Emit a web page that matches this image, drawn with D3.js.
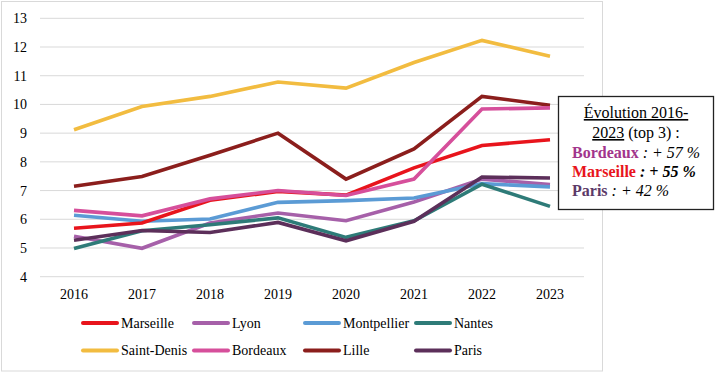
<!DOCTYPE html>
<html>
<head>
<meta charset="utf-8">
<script src="https://cdn.jsdelivr.net/npm/d3@7"></script>
<style>
  body { margin: 0; background: #fff; }
</style>
</head>
<body>
<div id="chart"></div>
<script>
// Data
var years = ["2016", "2017", "2018", "2019", "2020", "2021", "2022", "2023"];
var yTicks = [4, 5, 6, 7, 8, 9, 10, 11, 12, 13];

var marseille  = [5.69, 5.87, 6.66, 6.97, 6.84, 7.79, 8.57, 8.77];
var lyon       = [5.41, 4.99, 5.87, 6.22, 5.95, 6.6, 7.4, 7.21];
var montpellier= [6.14, 5.93, 6.01, 6.59, 6.65, 6.74, 7.24, 7.13];
var nantes     = [4.98, 5.6, 5.81, 6.05, 5.37, 5.95, 7.22, 6.45];
var saintDenis = [9.12, 9.93, 10.28, 10.78, 10.57, 11.46, 12.23, 11.68];
var bordeaux   = [6.31, 6.12, 6.71, 7.0, 6.83, 7.4, 9.84, 9.88];
var lille      = [7.15, 7.49, 8.23, 9.0, 7.4, 8.45, 10.28, 9.97];
var paris      = [5.27, 5.61, 5.54, 5.89, 5.25, 5.93, 7.47, 7.44];

var seriesNames = ["Marseille", "Lyon", "Montpellier", "Nantes", "Saint-Denis", "Bordeaux", "Lille", "Paris"];
var seriesValues = [marseille, lyon, montpellier, nantes, saintDenis, bordeaux, lille, paris];
var seriesColors = ["#e8141c", "#a660a9", "#5b9bd5", "#2e7b78", "#f2bc40", "#d64f9b", "#8b1e1c", "#5c2f5a"];
// drawing order (first drawn = bottom)
var drawOrder = [4, 6, 1, 2, 0, 5, 3, 7];

// Dimensions
var W = 715, H = 374;
var plot = {left: 40, right: 584, top: 18.3, bottom: 276.7};
var serif = "'Liberation Serif', 'Times New Roman', serif";

var svg = d3.select("#chart").append("svg")
    .attr("width", W)
    .attr("height", H)
    .attr("font-family", serif);

// chart frame
svg.append("rect")
    .attr("x", 1.5).attr("y", 1.5)
    .attr("width", 601).attr("height", 369.5)
    .attr("fill", "#fff")
    .attr("stroke", "#d9d9d9")
    .attr("stroke-width", 1);

// Scales
var x = d3.scaleBand()
    .domain(years)
    .range([plot.left, plot.right]);

var y = d3.scaleLinear()
    .domain([4, 13])
    .range([plot.bottom, plot.top]);

// Grid
svg.append("g")
    .selectAll("line")
    .data(yTicks)
    .enter().append("line")
    .attr("x1", plot.left).attr("x2", plot.right)
    .attr("y1", function(d) { return y(d); })
    .attr("y2", function(d) { return y(d); })
    .attr("stroke", "#d9d9d9")
    .attr("stroke-width", 1);

// Y axis
var yAxis = svg.append("g")
    .attr("transform", "translate(" + (plot.left - 13) + ",0)")
    .call(d3.axisLeft(y).tickValues(yTicks).tickSize(0).tickPadding(0))
    .attr("font-family", serif)
    .attr("font-size", 14);
yAxis.select(".domain").remove();
yAxis.selectAll("text").attr("fill", "#000");

// X axis
var xAxis = svg.append("g")
    .attr("transform", "translate(0," + (plot.bottom + 12) + ")")
    .call(d3.axisBottom(x).tickSize(0).tickPadding(0))
    .attr("font-family", serif)
    .attr("font-size", 14);
xAxis.select(".domain").remove();
xAxis.selectAll("text").attr("fill", "#000");

// Lines
var line = d3.line()
    .x(function(d, i) { return x(years[i]) + x.bandwidth() / 2; })
    .y(function(d) { return y(d); });

svg.append("g")
    .selectAll("path")
    .data(drawOrder)
    .enter().append("path")
    .attr("d", function(k) { return line(seriesValues[k]); })
    .attr("fill", "none")
    .attr("stroke", function(k) { return seriesColors[k]; })
    .attr("stroke-width", 3.6)
    .attr("stroke-linejoin", "miter");

// Legend
var legend = svg.append("g")
    .selectAll("g")
    .data(seriesNames)
    .enter().append("g")
    .attr("transform", function(d, i) {
        return "translate(" + (83 + (i % 4) * 111) + "," + (323 + Math.floor(i / 4) * 27.5) + ")";
    });

legend.append("line")
    .attr("x1", 0).attr("x2", 34)
    .attr("y1", 0).attr("y2", 0)
    .attr("stroke", function(d, i) { return seriesColors[i]; })
    .attr("stroke-width", 4)
    .attr("stroke-linecap", "round");

legend.append("text")
    .attr("x", 38)
    .attr("y", 0)
    .attr("dy", "0.33em")
    .attr("font-size", 14)
    .text(function(d) { return d; });

// Annotation box
var box = svg.append("g");
box.append("rect")
    .attr("x", 558.5).attr("y", 96.5)
    .attr("width", 155).attr("height", 113)
    .attr("fill", "#fff")
    .attr("stroke", "#222")
    .attr("stroke-width", 1.3);

var cx = 636;
box.append("text")
    .attr("x", cx).attr("y", 118)
    .attr("text-anchor", "middle")
    .attr("font-size", 16)
    .attr("text-decoration", "underline")
    .text("Évolution 2016-");

var t2 = box.append("text")
    .attr("x", cx).attr("y", 138)
    .attr("text-anchor", "middle")
    .attr("font-size", 16);
t2.append("tspan").attr("text-decoration", "underline").text("2023");
t2.append("tspan").text(" (top 3) :");

var notes = [
    {name: "Bordeaux", color: "#a2358c", value: " : + 57 %", bold: false},
    {name: "Marseille", color: "#e8141c", value: " : + 55 %", bold: true},
    {name: "Paris", color: "#5c3a68", value: " : + 42 %", bold: false}
];

notes.forEach(function(n, i) {
    var t = box.append("text")
        .attr("x", 572).attr("y", 158 + i * 19)
        .attr("font-size", 16);
    t.append("tspan")
        .attr("font-weight", "bold")
        .attr("fill", n.color)
        .text(n.name);
    t.append("tspan")
        .attr("font-style", "italic")
        .attr("font-weight", n.bold ? "bold" : "normal")
        .text(n.value);
});
</script>
</body>
</html>
